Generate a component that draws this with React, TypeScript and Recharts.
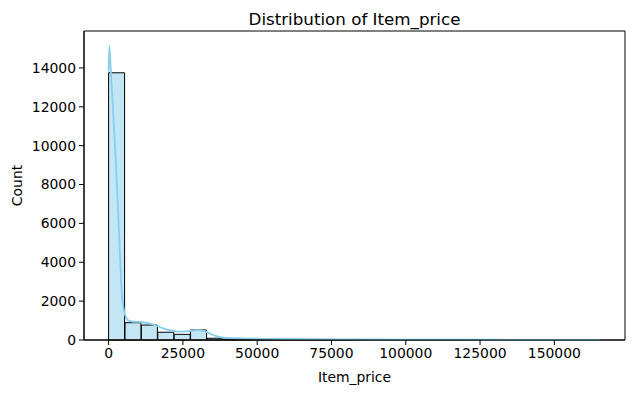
import {
	Bar,
	ComposedChart,
	Label,
	Line,
	ReferenceArea,
	XAxis,
	YAxis,
} from "recharts";

// histogram bins (30 bins over 0..165500)
const BIN_WIDTH = 165500 / 30;
const binCounts = [
	13750, 890, 770, 400, 290, 515, 90, 45, 40, 35,
	30, 25, 22, 18, 15, 12, 10, 9, 8, 7,
	6, 6, 5, 5, 4, 4, 3, 3, 3, 2,
];

// kde curve (price, count)
const kdePrice = [
	0, 250, 700, 1500, 2500, 3500, 4500, 5200, 6000, 7000,
	8500, 10000, 12000, 14000, 16000, 18000, 20000, 22000, 24000, 26000,
	28000, 30000, 32000, 34000, 36000, 38000, 40000, 45000, 50000, 55000,
	60000, 70000, 80000, 90000, 100000, 110000, 120000, 130000, 140000, 150000,
	160000, 165500,
];
const kdeCount = [
	13800, 15150, 14000, 11800, 9000, 5600, 2300, 1500, 1120, 980,
	940, 930, 900, 840, 740, 620, 520, 460, 430, 440,
	480, 505, 470, 340, 210, 140, 110, 85, 70, 60,
	52, 40, 32, 26, 22, 18, 15, 12, 10, 8,
	6, 5,
];

const xTicks = [0, 25000, 50000, 75000, 100000, 125000, 150000];
const yTicks = [0, 2000, 4000, 6000, 8000, 10000, 12000, 14000];

const X_DOMAIN: [number, number] = [-8275, 173775];
const Y_DOMAIN: [number, number] = [0, 15900];

const bins = binCounts.map((count, i) => ({ center: (i + 0.5) * BIN_WIDTH, count }));
const kde = kdePrice.map((price, i) => ({ price, kde: kdeCount[i] }));

const FONT = "DejaVu Sans, sans-serif";
const tickStyle = { fontSize: 13.9, fill: "#000", fontFamily: FONT };

export default function App() {
	return (
		<div style={{ position: "absolute", left: 0, top: 0, width: 635, height: 393, background: "#fff" }}>
			<div
				style={{
					position: "absolute",
					left: 84,
					width: 541,
					top: 9,
					textAlign: "center",
					fontFamily: FONT,
					fontSize: 16.7,
					color: "#000",
					lineHeight: "20px",
				}}
			>
				Distribution of Item_price
			</div>
			<ComposedChart
				width={635}
				height={393}
				data={bins}
				margin={{ top: 31, right: 10, bottom: 0, left: 0 }}
				barCategoryGap={0}
				barGap={0}
			>
				<XAxis
					xAxisId="bins"
					dataKey="center"
					type="number"
					domain={X_DOMAIN}
					allowDataOverflow
					hide
					height={0}
				/>
				<XAxis
					xAxisId="main"
					dataKey="price"
					type="number"
					domain={X_DOMAIN}
					allowDataOverflow
					ticks={xTicks}
					tick={tickStyle}
					tickSize={5}
					tickMargin={3}
					tickLine={{ stroke: "#000" }}
					axisLine={{ stroke: "#000" }}
					height={53}
				>
					<Label
						value="Item_price"
						position="insideBottom"
						offset={11}
						style={{ fontFamily: FONT, fontSize: 13.9, fill: "#000" }}
					/>
				</XAxis>
				<YAxis
					type="number"
					domain={Y_DOMAIN}
					ticks={yTicks}
					tick={tickStyle}
					tickSize={5}
					tickMargin={3}
					tickLine={{ stroke: "#000" }}
					axisLine={{ stroke: "#000" }}
					width={84}
				>
					<Label
						content={({ viewBox }: any) => {
							const cx = viewBox.x + 17;
							const cy = viewBox.y + viewBox.height / 2;
							return (
								<text
									x={cx}
									y={cy}
									transform={`rotate(-90, ${cx}, ${cy})`}
									textAnchor="middle"
									dominantBaseline="central"
									style={{ fontFamily: FONT, fontSize: 13.9, fill: "#000" }}
								>
									Count
								</text>
							);
						}}
					/>
				</YAxis>
				<Bar
					xAxisId="bins"
					dataKey="count"
					fill="rgba(135,206,235,0.5)"
					stroke="#000"
					strokeWidth={1}
					isAnimationActive={false}
				/>
				<Line
					xAxisId="main"
					data={kde}
					dataKey="kde"
					type="monotone"
					stroke="#87ceeb"
					strokeWidth={1.8}
					dot={false}
					activeDot={false}
					isAnimationActive={false}
				/>
				<ReferenceArea
					xAxisId="main"
					x1={X_DOMAIN[0]}
					x2={X_DOMAIN[1]}
					y1={Y_DOMAIN[0]}
					y2={Y_DOMAIN[1]}
					fill="none"
					stroke="#000"
					strokeWidth={1}
					ifOverflow="visible"
				/>
			</ComposedChart>
		</div>
	);
}
